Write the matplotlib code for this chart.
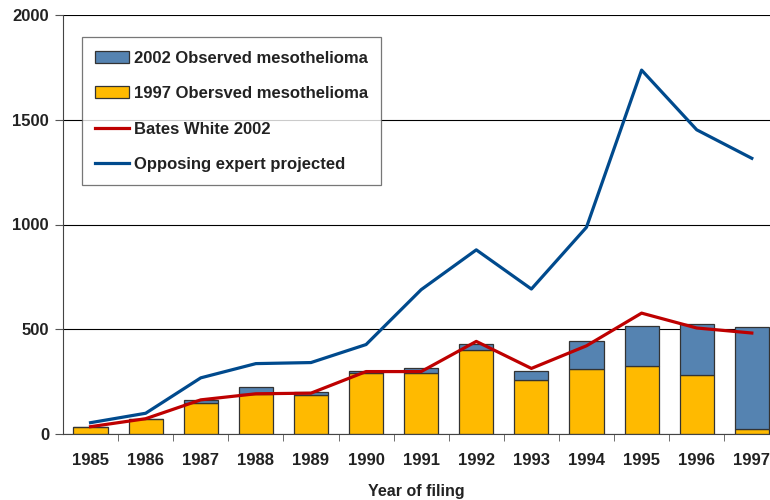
import matplotlib.pyplot as plt
import numpy as np

plt.rcParams['font.family'] = ['Liberation Sans', 'DejaVu Sans']

years = [1985, 1986, 1987, 1988, 1989, 1990, 1991, 1992, 1993, 1994, 1995, 1996, 1997]
obs_2002 = [35, 72, 161, 222, 201, 301, 313, 429, 301, 442, 517, 523, 512]
obs_1997 = [35, 72, 150, 190, 185, 289, 290, 400, 260, 310, 325, 281, 25]
bates_white = [35, 73, 163, 192, 195, 298, 298, 442, 313, 421, 577, 506, 482]
opposing = [54, 99, 268, 336, 341, 427, 689, 879, 692, 987, 1737, 1452, 1316]

x = np.arange(len(years))
extra = np.array(obs_2002) - np.array(obs_1997)

fig = plt.figure(figsize=(7.7, 5), dpi=100)
ax = fig.add_axes([0.0818, 0.132, 0.9182, 0.838])

ax.set_axisbelow(True)
ax.grid(axis='y', color='black', linewidth=0.8)

b97 = ax.bar(x, obs_1997, width=0.62, color='#FFBA00', edgecolor='#333333', linewidth=0.9, zorder=2)
b02 = ax.bar(x, extra, bottom=obs_1997, width=0.62, color='#5583B1', edgecolor='#333333',
             linewidth=0.9, zorder=2)
l_bw, = ax.plot(x, bates_white, color='#BE0000', linewidth=2.3, zorder=3)
l_op, = ax.plot(x, opposing, color='#004A8D', linewidth=2.3, zorder=3)

ax.set_xlim(-0.5, 12.33)
ax.set_ylim(0, 2000)
ax.set_yticks([0, 500, 1000, 1500, 2000])
ax.set_xticks(x)
ax.set_xticklabels([str(y) for y in years], fontweight='bold', fontsize=12, color='#222222')
ax.set_xticks(np.arange(0.5, 12.5, 1), minor=True)
ax.tick_params(axis='x', which='major', length=0, pad=14)
ax.tick_params(axis='x', which='minor', length=5, color='#555555')
ax.tick_params(axis='y', length=6, color='#555555', labelsize=12, pad=4)
for lab in ax.get_yticklabels():
    lab.set_fontweight('bold')
    lab.set_color('#222222')

for s in ['top', 'right']:
    ax.spines[s].set_visible(False)
ax.spines['left'].set_color('#444444')
ax.spines['bottom'].set_color('#444444')

ax.set_xlabel('Year of filing', fontweight='bold', fontsize=11.5, color='#222222', labelpad=11)

leg = ax.legend([b02, b97, l_bw, l_op],
                ['2002 Observed mesothelioma', '1997 Obersved mesothelioma',
                 'Bates White 2002', 'Opposing expert projected'],
                loc='upper left', bbox_to_anchor=(0.027, 0.947),
                prop={'weight': 'bold', 'size': 12}, frameon=True, fancybox=False,
                edgecolor='#555555', labelspacing=1.23, handlelength=2.0,
                handletextpad=0.3, borderpad=0.8, borderaxespad=0)
leg.get_frame().set_linewidth(0.9)
for t in leg.get_texts():
    t.set_color('#222222')

fig.savefig('out.png', dpi=100)
